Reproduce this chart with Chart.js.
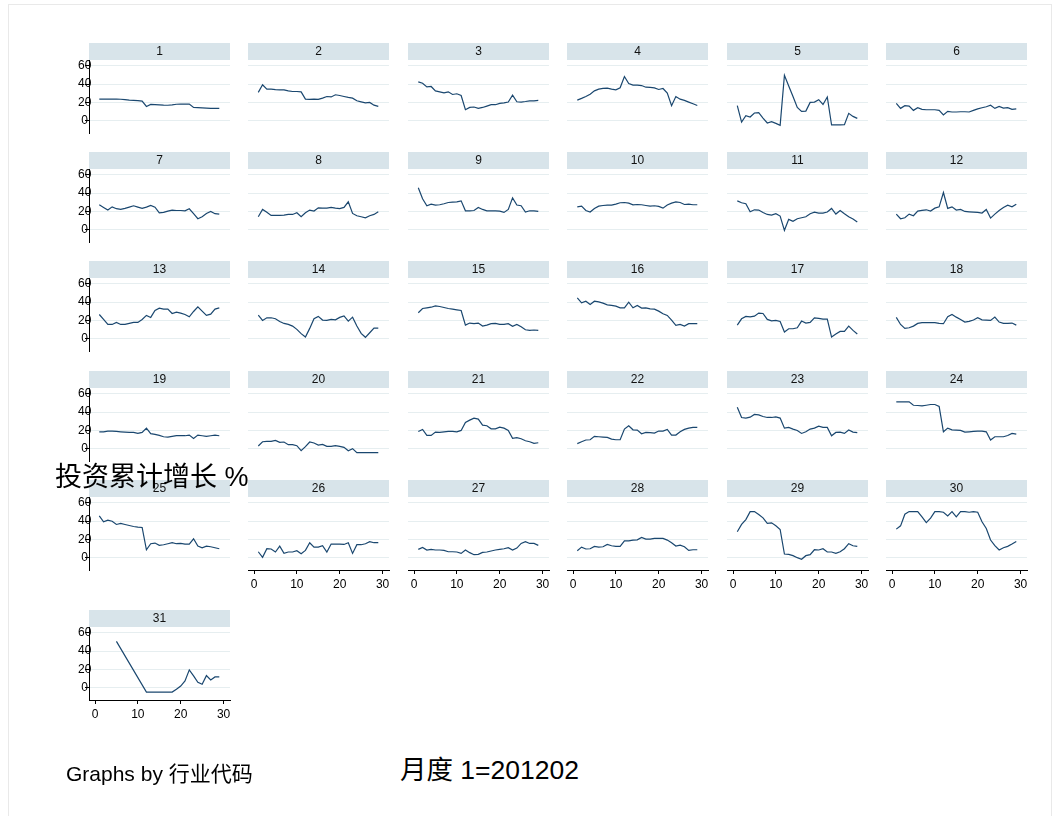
<!DOCTYPE html>
<html>
<head>
<meta charset="utf-8">
<script src="https://cdn.jsdelivr.net/npm/chart.js@4.4.1/dist/chart.umd.min.js"></script>
<style>
  html, body { margin: 0; padding: 0; background: #fff; }
  #page { position: relative; width: 1058px; height: 816px; overflow: hidden;
          font-family: 'Liberation Sans', Arial, 'Noto Sans CJK SC', sans-serif; }
  .frame { position: absolute; left: 8px; top: 4px; width: 1042px; height: 830px; border: 1px solid #e9e9e9; }
  .panel { position: absolute; }
  .txt { position: absolute; white-space: nowrap; color: #000; line-height: 1; }
</style>
</head>
<body>
<div id="page">
  <div class="frame"></div>
</div>
<script>
// Month index (1 = 2012-02) and axis ticks
const months = [1,2,3,4,5,6,7,8,9,10,11,12,13,14,15,16,17,18,19,20,21,22,23,24,25,26,27,28,29];
const xTicks = [0, 10, 20, 30];
const yTicks = [0, 20, 40, 60];

// Cumulative investment growth (%) by industry code
const growth1  = [23.6,23.6,23.6,23.6,23.6,23.5,23,22.5,22.2,22,21.5,15.6,17.8,17.5,17.3,17,16.9,17.3,18,18.2,18.2,18.2,14.5,14.3,14,13.8,13.5,13.5,13.5];
const growth2  = [31,39.3,34.5,34.5,34,33.8,33.8,32.7,32,32,31.6,23.6,23.3,23.6,23.3,24.7,26.5,26,28.4,27.6,26.5,25.5,24.7,21.8,20.7,19.6,20,17,15.6];
const growth3  = [42.5,41,37,37.5,32.7,31.6,30.5,31.6,28.7,29.5,27.6,12,14.5,15,13.5,14.5,16,17.5,17.5,19,19.6,20.4,28,20.7,20.4,21,21.8,21.8,22.2];
const growth4  = [22.5,24.4,26.5,29,32.7,34.5,35.3,35.6,34.5,33.8,36,48.4,40.7,39,39,38.5,36.7,36.4,36,34.2,35.3,30.2,16.4,26.5,23.6,22.2,20.4,18.5,16.7];
const growth5  = [16.4,-1.5,5.5,4,8.4,8.7,2.9,-2.5,-1,-2.9,-5,49.8,38,26.5,14.5,10.2,10.5,20,20.4,23,17.8,26,-4.7,-4.7,-4.7,-4.4,8,4.7,2.5];
const growth6  = [18.9,13.5,16.4,16,11.3,14.2,12.4,12,12,12,11.3,6.2,10.2,9.5,9.5,9.8,9.8,9.5,11.3,13,14.2,15.3,17,13.5,15.6,13.8,14.2,12.4,13];
const growth7  = [27.3,24.4,21.5,25,23,22.2,23.3,24.7,26.2,24.7,23.3,24.7,26.5,24.7,18.5,19,20.4,21.5,21,21,20.7,22.9,17.5,12,14.2,17.8,20,17.5,17];
const growth8  = [14.2,22.2,19.2,15.6,15.6,15.6,16,16.7,16.7,18.5,14.2,18.5,21.5,20.4,24,23.6,23.6,24.4,23.6,23,24.4,30.5,17.8,15.3,14.2,13,15.3,16.7,19.6];
const growth9  = [46,33.8,26.2,28,27,27.3,28.4,29.8,30.2,30.5,31.6,20.7,20.7,21,24.4,22.2,20.7,20.7,20.7,20.4,18.9,22.2,34.9,27,26.2,19.3,20.7,20.7,20];
const growth10 = [25,25.8,21,19.3,23.3,25.8,26.5,27,27,28,29.5,29.8,29.1,27.3,27.6,27.3,26.5,25.8,26.2,25.5,23.6,27,29.1,30.5,29.8,27.6,28,27.3,27.3];
const growth11 = [31.6,29.5,28.4,19.6,21.8,21.5,18.9,16.7,16,17.5,14.9,-0.7,11.3,9.1,12,13.1,14.2,17.5,19.3,18.2,18.2,19.3,23.3,17.1,21.1,17.5,14.2,11.6,8.4];
const growth12 = [17.1,12,13.1,17.1,15.3,20.4,21.1,21.8,20.4,23.6,25,40.7,23.3,25,21.5,22.2,20,19.6,19.3,18.9,18.2,22.2,12.7,17.1,21.1,24.4,26.9,25,27.9];
const growth13 = [26.5,21.1,15.6,15.6,17.8,15.6,15.6,16.7,17.8,17.8,21.1,25.5,23.3,30.9,33.5,32.4,32.4,27.6,29.1,28,26.5,24,29.8,34.9,30.2,25.5,26.9,32.4,33.8];
const growth14 = [25.8,20,22.9,22.9,21.8,18.9,16.7,15.6,13.8,10.2,5.5,1.8,11.3,21.8,24.4,20.4,20,21.1,20.7,23.3,25,19.3,23.6,13.8,5.8,1.5,6.5,11.6,11.6];
const growth15 = [28.4,33.1,33.8,34.5,36,35.3,34.2,33.1,32.4,31.6,30.9,14.9,17.1,16.4,17.1,13.8,14.9,16.4,16.7,15.6,15.6,16.4,13.5,15.6,13.1,9.8,9.1,9.5,9.1];
const growth16 = [44.7,39.3,41.1,37.5,41.1,40.4,38.9,37.1,36.4,35.6,33.8,33.8,40,33.8,36.4,33.5,33.8,32.7,32.4,30.2,27.3,25.5,20.4,14.5,15.6,13.8,16.4,16.4,16.4];
const growth17 = [14.9,21.8,24.4,24,24.7,28,27.6,21.1,19.6,20,18.9,7.3,10.9,10.9,12,19.3,17.1,17.8,22.9,22.2,21.5,21.5,1.8,5.1,8,8,13.8,9.1,5.1];
const growth18 = [23.3,15.6,11.3,12,13.8,16.7,17.5,17.5,17.5,17.5,16.7,16.4,24,26.5,23.6,21.1,18.2,18.9,20.4,22.9,20.7,20.4,20,23.6,18.2,16.7,16.7,17.1,14.9];
const growth19 = [18.5,18.5,19.3,19.3,18.9,18.5,18.2,17.8,17.8,16.7,17.8,22.5,16.4,15.6,14.5,13.1,12.7,13.5,14.2,14.2,14.2,14.9,11.3,14.9,14.2,13.5,14.2,14.9,14.2];
const growth20 = [2.9,7.6,8,8,9.1,6.9,7.3,4.4,4.4,3.3,-2.2,2.2,7.3,6.2,4,4.7,2.5,2.5,3.3,2.5,1.5,-2.2,0,-4.4,-4.4,-4.4,-4.4,-4.4,-4.4];
const growth21 = [18.9,21.1,14.5,14.5,18.2,17.8,18.5,18.9,18.9,18.5,20,28.7,31.3,33.5,32.4,25.8,25.1,21.8,21.8,23.6,22.5,20,11.3,12,10.9,8.7,7.6,5.8,6.5];
const growth22 = [5.5,7.6,9.5,9.8,13.5,13.1,12.7,12.4,10.5,9.8,9.8,21.5,25.1,20.7,20.4,16.4,17.8,17.5,17.1,19.3,19.3,21.1,14.9,14.9,18.5,21.1,22.5,23.3,23.3];
const growth23 = [45.5,34.2,33.5,34.5,37.5,37.1,35.3,34.2,34.2,34.9,33.5,22.5,23.3,21.5,20,16.7,18.5,21.5,22.5,24.7,23.3,23.3,14.2,17.8,18.2,16.7,20.4,18.2,17.5];
const growth24 = [51.3,51.3,51.3,51.3,47.6,47.3,46.9,47.6,48.4,48.4,46.2,18.5,22.5,20.7,20.4,20,18.2,18.5,18.9,19.3,19.3,18.5,9.5,13.1,13.1,13.1,14.5,16.7,16];
const growth25 = [45.8,39.3,41.1,40,36.4,37.5,36.4,35.3,34.2,33.5,33.1,8.7,15.3,16,13.5,14.2,15.3,16.4,15.3,15.6,14.9,14.9,20.7,12.7,10.9,12.7,12,10.9,9.8];
const growth26 = [6.5,0.4,9.8,9.5,6.2,12.7,4.7,6.2,6.2,7.6,4.4,8,16.4,11.6,11.6,13.1,6.2,14.9,14.9,14.9,14.5,16.4,4.7,14.2,14.2,15.3,17.5,16.4,16.4];
const growth27 = [9.1,11.3,8.4,9.1,8.4,8.4,8,6.5,6.5,6.2,4.7,8.4,5.5,3.3,3.6,5.8,6.2,7.3,8.4,9.1,9.8,10.9,8.4,10.5,15.6,17.5,15.6,15.6,13.5];
const growth28 = [7.6,11.6,9.5,9.8,12.4,11.6,12,14.5,13.1,12.4,12.4,18.5,18.5,19.3,19.6,22.2,20.4,20.4,21.1,21.1,21.1,19.3,16.4,12.7,13.8,12,8,8.7,8.7];
const growth29 = [28.4,36.4,41.8,50.5,50.5,47.3,43.6,37.5,38.2,34.9,30.9,4,3.6,2.2,0,-1.8,2.2,3.3,8.7,8.4,9.8,6.2,6.2,4.7,6.5,9.8,15.3,13.1,12.4];
const growth30 = [31.3,34.9,47.6,50.5,50.5,50.5,44.7,38.5,43.3,50.5,50.5,49.8,45.8,50.5,44.7,50.5,50.5,49.8,50.5,49.8,39.3,32,19.3,13.1,8.4,10.9,12.4,14.9,17.8];
const growth31 = [null,null,null,null,50.7,null,null,null,null,null,null,-4.8,-4.8,-4.8,-4.8,-4.8,-4.8,-4.8,-1.8,1.8,7.4,19.5,12.9,5.9,3.7,13.2,8.5,11.8,11.8];

const panelSeries = [growth1,growth2,growth3,growth4,growth5,growth6,growth7,growth8,growth9,growth10,
  growth11,growth12,growth13,growth14,growth15,growth16,growth17,growth18,growth19,growth20,
  growth21,growth22,growth23,growth24,growth25,growth26,growth27,growth28,growth29,growth30,growth31];

// Small-multiple grid geometry
const COL_LEFT = [89, 248, 408, 567, 727, 886];
const ROW_TOP  = [43, 152, 261, 371, 480, 610];
const PLOT_W = 141, SIDE = 40, BOTTOM = 31, CANVAS_H = 121;
const FONT = "'Liberation Sans', Arial, sans-serif";
const LINE = '#1a476f', STRIP = '#d8e4ea', GRID = '#e6eef0';

Chart.defaults.font.family = FONT;

// Shaded strip behind each panel's heading
const stripPlugin = {
  id: 'strip',
  beforeDraw(chart, args, opts) {
    const { ctx, chartArea, titleBlock } = chart;
    ctx.save();
    ctx.fillStyle = opts.color;
    ctx.fillRect(chartArea.left, titleBlock.top, chartArea.right - chartArea.left, titleBlock.height);
    ctx.restore();
  }
};

const page = document.getElementById('page');

panelSeries.forEach((series, idx) => {
  const col = idx % 6, row = Math.floor(idx / 6);
  const showY = col === 0;
  const showX = idx >= 25;

  const holder = document.createElement('div');
  holder.className = 'panel';
  holder.style.left = (COL_LEFT[col] - SIDE) + 'px';
  holder.style.top = ROW_TOP[row] + 'px';
  const canvas = document.createElement('canvas');
  const w = PLOT_W + 2 * SIDE;
  canvas.width = w; canvas.height = CANVAS_H;
  canvas.style.width = w + 'px'; canvas.style.height = CANVAS_H + 'px';
  holder.appendChild(canvas);
  page.appendChild(holder);

  new Chart(canvas, {
    type: 'line',
    data: {
      datasets: [{
        data: months.map((m, i) => ({ x: m, y: series[i] })),
        borderColor: LINE, borderWidth: 1.2, pointRadius: 0,
        tension: 0, spanGaps: true, fill: false
      }]
    },
    options: {
      responsive: false, animation: false, events: [],
      layout: { padding: { left: SIDE, right: SIDE, top: 0, bottom: 0 } },
      plugins: {
        legend: { display: false },
        tooltip: { enabled: false },
        strip: { color: STRIP },
        title: {
          display: true, text: String(idx + 1), color: '#111',
          font: { size: 12, family: FONT, weight: 'normal', lineHeight: 1.2 },
          padding: { top: 1.3, bottom: 1.3 }
        }
      },
      scales: {
        x: {
          type: 'linear', min: -1.4, max: 31.5,
          afterBuildTicks: s => { s.ticks = xTicks.map(v => ({ value: v })); },
          afterFit: s => { s.height = BOTTOM; },
          grid: { display: showX, drawOnChartArea: false, drawTicks: true, tickLength: 4, color: '#000', tickColor: '#000' },
          border: { display: showX, color: '#000', width: 1 },
          ticks: { display: showX, padding: 3, color: '#000', font: { size: 12 }, maxRotation: 0, autoSkip: false }
        },
        y: {
          type: 'linear', min: -13.5, max: 66.5,
          afterBuildTicks: s => { s.ticks = yTicks.map(v => ({ value: v })); },
          afterFit: s => { s.width = 0; },
          grid: { display: true, color: GRID, lineWidth: 1, drawTicks: showY, tickLength: 4, tickColor: '#000' },
          border: { display: showY, color: '#000', width: 1 },
          ticks: { display: showY, mirror: true, crossAlign: 'center', padding: -11, color: '#000', font: { size: 12 }, autoSkip: false }
        }
      }
    },
    plugins: [stripPlugin]
  });
});

// Axis titles and note
function addText(text, left, top, size) {
  const d = document.createElement('div');
  d.className = 'txt';
  d.textContent = text;
  d.style.left = left + 'px';
  d.style.top = top + 'px';
  d.style.fontSize = size + 'px';
  page.appendChild(d);
}
addText('投资累计增长 %', 55, 464, 27);
addText('月度 1=201202', 400, 757, 26.5);
addText('Graphs by 行业代码', 66, 763, 21);
</script>
</body>
</html>
